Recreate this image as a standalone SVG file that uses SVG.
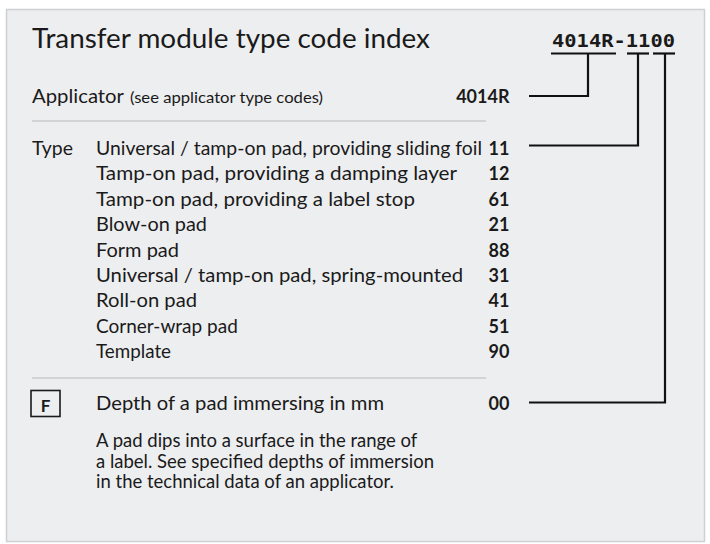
<svg xmlns="http://www.w3.org/2000/svg" width="710" height="544" viewBox="0 0 710 544">
<style>
text{font-family:Lato,"Open Sans","Liberation Sans",sans-serif;fill:#1a1a1a}
.t{font-size:19px}
.p{font-size:18.5px}
.s{font-size:15px}
.b{font-size:18px;font-weight:bold;text-anchor:end}
.code{font-family:"DejaVu Sans Mono","Liberation Mono",monospace;font-size:18px;font-weight:bold}
.sep{stroke:#c9cacc;stroke-width:1.5}
.con{fill:none;stroke:#111;stroke-width:2.2}
</style>
<rect x="0" y="0" width="710" height="544" fill="#ffffff"/>
<rect x="6.5" y="9.5" width="698" height="532" fill="#edeef0" stroke="#cfd0d2" stroke-width="1.5"/>
<g id="title">
<text x="32" y="48" style="font-size:27px" textLength="398" lengthAdjust="spacingAndGlyphs">Transfer module type code index</text>
</g>
<g id="code">
<text class="code" x="552" y="47" textLength="123" lengthAdjust="spacingAndGlyphs">4014R-1100</text>
<line class="con" x1="551" y1="53.5" x2="616" y2="53.5"/>
<line class="con" x1="627" y1="53.5" x2="649" y2="53.5"/>
<line class="con" x1="653" y1="53.5" x2="675" y2="53.5"/>
</g>
<g id="applicator">
<text class="t" x="32" y="103" textLength="92" lengthAdjust="spacingAndGlyphs">Applicator</text>
<text class="s" x="130" y="103" textLength="193" lengthAdjust="spacingAndGlyphs">(see applicator type codes)</text>
<text class="b" x="509.5" y="103">4014R</text>
</g>
<line class="sep" x1="32" y1="121" x2="486" y2="121"/>
<g id="type">
<text class="t" x="32" y="155" textLength="41" lengthAdjust="spacingAndGlyphs">Type</text>
<text class="t" x="96" y="155" textLength="386" lengthAdjust="spacingAndGlyphs">Universal / tamp-on pad, providing sliding foil</text>
<text class="b" x="509.5" y="155">11</text>
<text class="t" x="96" y="180.4" textLength="361" lengthAdjust="spacingAndGlyphs">Tamp-on pad, providing a damping layer</text>
<text class="b" x="509.5" y="180.4">12</text>
<text class="t" x="96" y="205.8" textLength="319" lengthAdjust="spacingAndGlyphs">Tamp-on pad, providing a label stop</text>
<text class="b" x="509.5" y="205.8">61</text>
<text class="t" x="96" y="231.2" textLength="111" lengthAdjust="spacingAndGlyphs">Blow-on pad</text>
<text class="b" x="509.5" y="231.2">21</text>
<text class="t" x="96" y="256.6" textLength="83" lengthAdjust="spacingAndGlyphs">Form pad</text>
<text class="b" x="509.5" y="256.6">88</text>
<text class="t" x="96" y="282" textLength="367" lengthAdjust="spacingAndGlyphs">Universal / tamp-on pad, spring-mounted</text>
<text class="b" x="509.5" y="282">31</text>
<text class="t" x="96" y="307.4" textLength="101" lengthAdjust="spacingAndGlyphs">Roll-on pad</text>
<text class="b" x="509.5" y="307.4">41</text>
<text class="t" x="96" y="332.8">Corner-wrap pad</text>
<text class="b" x="509.5" y="332.8">51</text>
<text class="t" x="96" y="358.2" textLength="75" lengthAdjust="spacingAndGlyphs">Template</text>
<text class="b" x="509.5" y="358.2">90</text>
</g>
<line class="sep" x1="32" y1="378" x2="486" y2="378"/>
<g id="depth">
<rect x="31" y="390.5" width="29" height="26" fill="none" stroke="#1a1a1a" stroke-width="1.6"/>
<text x="45.5" y="411.5" style="font-size:17px;font-weight:bold;text-anchor:middle">F</text>
<text class="t" x="96" y="410" textLength="288" lengthAdjust="spacingAndGlyphs">Depth of a pad immersing in mm</text>
<text class="b" x="509.5" y="410">00</text>
<text class="p" x="96" y="447">A pad dips into a surface in the range of</text>
<text class="p" x="96" y="467.5">a label. See specified depths of immersion</text>
<text class="p" x="96" y="488">in the technical data of an applicator.</text>
</g>
<g id="connectors">
<polyline class="con" points="529,96 588,96 588,53.5"/>
<polyline class="con" points="529,145.5 638,145.5 638,53.5"/>
<polyline class="con" points="529,402.5 665,402.5 665,53.5"/>
</g>
</svg>
